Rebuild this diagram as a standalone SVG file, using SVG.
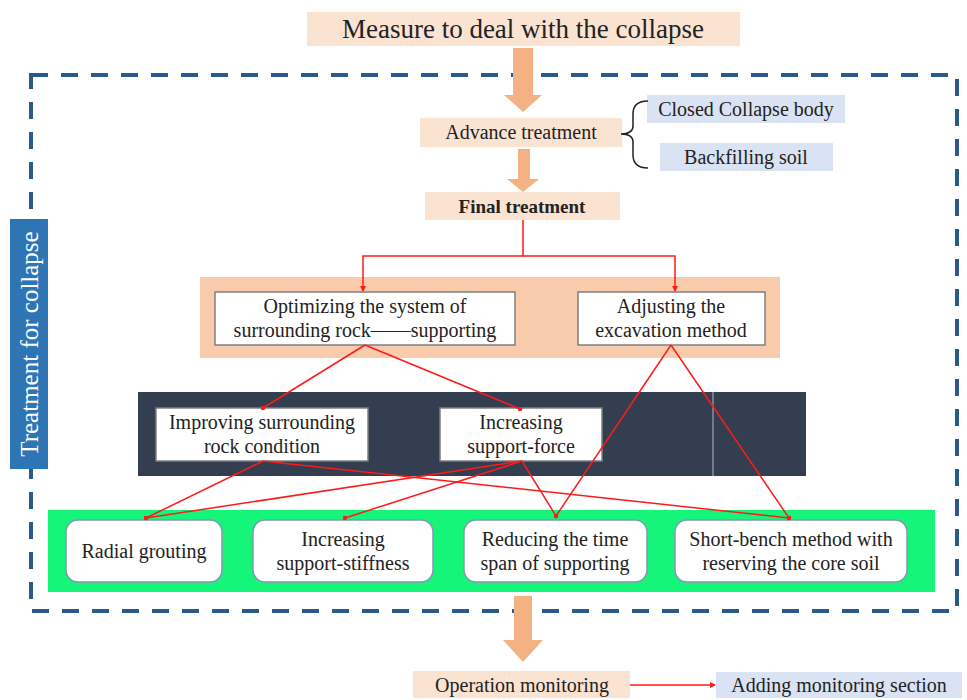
<svg xmlns="http://www.w3.org/2000/svg" width="967" height="700" viewBox="0 0 967 700">
<defs>
<style>
text{font-family:"Liberation Serif","Times New Roman",serif;fill:#222;text-anchor:middle;}
.t{font-size:20px;}
.peach{fill:#fbe3d2;}
.blue{fill:#dae3f3;}
.arrow{fill:#f4b183;}
.wbox{fill:#fff;stroke:#7f7f7f;stroke-width:1.5;}
.rbox{fill:#fff;stroke:#8497b0;stroke-width:1.5;}
.red{stroke:#ff1a1a;stroke-width:1.5;fill:none;}
</style>
<marker id="ah" markerWidth="6" markerHeight="6" refX="5" refY="3" orient="auto" markerUnits="userSpaceOnUse">
<path d="M0,0 L6,3 L0,6 Z" fill="#ff1a1a"/>
</marker>
<marker id="dot" markerWidth="5" markerHeight="5" refX="2.5" refY="2.5" markerUnits="userSpaceOnUse">
<circle cx="2.5" cy="2.5" r="2.2" fill="#ff1a1a"/>
</marker>
</defs>
<rect width="967" height="700" fill="#fff"/>

<!-- dashed frame -->
<rect x="31" y="75" width="926" height="536" fill="none" stroke="#285a8c" stroke-width="4" stroke-dasharray="17 13"/>

<!-- bands -->
<rect x="200" y="277" width="580" height="81" fill="#f8cbad"/>
<rect x="138" y="392" width="668" height="84" fill="#333f50"/>
<line x1="713" y1="392" x2="713" y2="476" stroke="#b0b8c4" stroke-width="1"/>
<rect x="48" y="510" width="887" height="82" fill="#14f57a"/>

<!-- big arrows -->
<g id="arrows-big">
<rect class="arrow" x="513" y="48" width="20" height="48"/>
<polygon class="arrow" points="504,95 542,95 523,112"/>
<rect class="arrow" x="518" y="149" width="12" height="31"/>
<polygon class="arrow" points="507,179 539,179 523,192"/>
<rect class="arrow" x="514" y="596" width="18" height="45"/>
<polygon class="arrow" points="503,640 543,640 523,662"/>
</g>

<g id="label-side">
<rect x="10" y="219" width="38" height="250" fill="#2e75b6"/>
<text transform="translate(38,344) rotate(-90)" style="font-size:25px;fill:#fff;">Treatment for collapse</text>
</g>

<g id="n-title">
<rect class="peach" x="307" y="12" width="433" height="34"/>
<text x="523" y="38" style="font-size:27px;">Measure to deal with the collapse</text>
</g>

<g id="n-advance">
<rect class="peach" x="420" y="118" width="202" height="29"/>
<text class="t" x="521" y="139">Advance treatment</text>
</g>

<g id="n-closed">
<rect class="blue" x="647" y="95" width="198" height="28"/>
<text class="t" x="746" y="116">Closed Collapse body</text>
</g>

<g id="n-backfill">
<rect class="blue" x="660" y="143" width="173" height="28"/>
<text class="t" x="746" y="164">Backfilling soil</text>
</g>

<g id="n-final">
<rect class="peach" x="425" y="192" width="195" height="28"/>
<text x="522" y="213" style="font-size:19px;font-weight:bold;">Final treatment</text>
</g>

<g id="n-optimizing">
<rect class="wbox" x="215" y="292" width="300" height="53"/>
<text class="t" x="365" y="313">Optimizing the system of</text>
<text class="t" x="365" y="337">surrounding rock——supporting</text>
</g>

<g id="n-adjusting">
<rect class="wbox" x="578" y="292" width="187" height="53"/>
<text class="t" x="671" y="313">Adjusting the</text>
<text class="t" x="671" y="337">excavation method</text>
</g>

<g id="n-improving">
<rect class="wbox" x="156" y="408" width="212" height="53"/>
<text class="t" x="262" y="429">Improving surrounding</text>
<text class="t" x="262" y="453">rock condition</text>
</g>

<g id="n-force">
<rect class="wbox" x="440" y="408" width="162" height="53"/>
<text class="t" x="521" y="429">Increasing</text>
<text class="t" x="521" y="453">support-force</text>
</g>

<g id="n-radial">
<rect class="rbox" x="66" y="520" width="156" height="62" rx="12"/>
<text class="t" x="144" y="558">Radial grouting</text>
</g>

<g id="n-stiffness">
<rect class="rbox" x="253" y="520" width="180" height="62" rx="12"/>
<text class="t" x="343" y="546">Increasing</text>
<text class="t" x="343" y="570">support-stiffness</text>
</g>

<g id="n-reducing">
<rect class="rbox" x="464" y="520" width="183" height="62" rx="12"/>
<text class="t" x="555" y="546">Reducing the time</text>
<text class="t" x="555" y="570">span of supporting</text>
</g>

<g id="n-shortbench">
<rect class="rbox" x="675" y="520" width="232" height="62" rx="12"/>
<text class="t" x="791" y="546">Short-bench method with</text>
<text class="t" x="791" y="570">reserving the core soil</text>
</g>

<g id="n-operation">
<rect class="peach" x="413" y="671" width="217" height="27"/>
<text class="t" x="522" y="692">Operation monitoring</text>
</g>

<g id="n-adding">
<rect class="blue" x="716" y="672" width="246" height="26"/>
<text class="t" x="839" y="692">Adding monitoring section</text>
</g>

<g id="connectors">
<path d="M648,101 Q633,101 633,114 L633,126 Q633,134 621,134 Q633,134 633,142 L633,155 Q633,168 648,168" fill="none" stroke="#222" stroke-width="1.5"/>
<path class="red" d="M523,220 V256 H363 V291" marker-end="url(#ah)"/>
<path class="red" d="M523,256 H675 V291" marker-end="url(#ah)"/>
<line class="red" x1="365" y1="345" x2="263" y2="408" marker-end="url(#dot)"/>
<line class="red" x1="365" y1="345" x2="520" y2="409" marker-end="url(#dot)"/>
<line class="red" x1="671" y1="345" x2="556" y2="516" marker-end="url(#dot)"/>
<line class="red" x1="671" y1="345" x2="789" y2="518" marker-end="url(#dot)"/>
<line class="red" x1="263" y1="461" x2="146" y2="518" marker-end="url(#dot)"/>
<line class="red" x1="263" y1="461" x2="789" y2="518" marker-end="url(#dot)"/>
<line class="red" x1="522" y1="461" x2="146" y2="518" marker-end="url(#dot)"/>
<line class="red" x1="522" y1="461" x2="345" y2="518" marker-end="url(#dot)"/>
<line class="red" x1="522" y1="461" x2="556" y2="516" marker-end="url(#dot)"/>
<line class="red" x1="630" y1="685" x2="715" y2="685" marker-end="url(#ah)"/>
</g>
</svg>
